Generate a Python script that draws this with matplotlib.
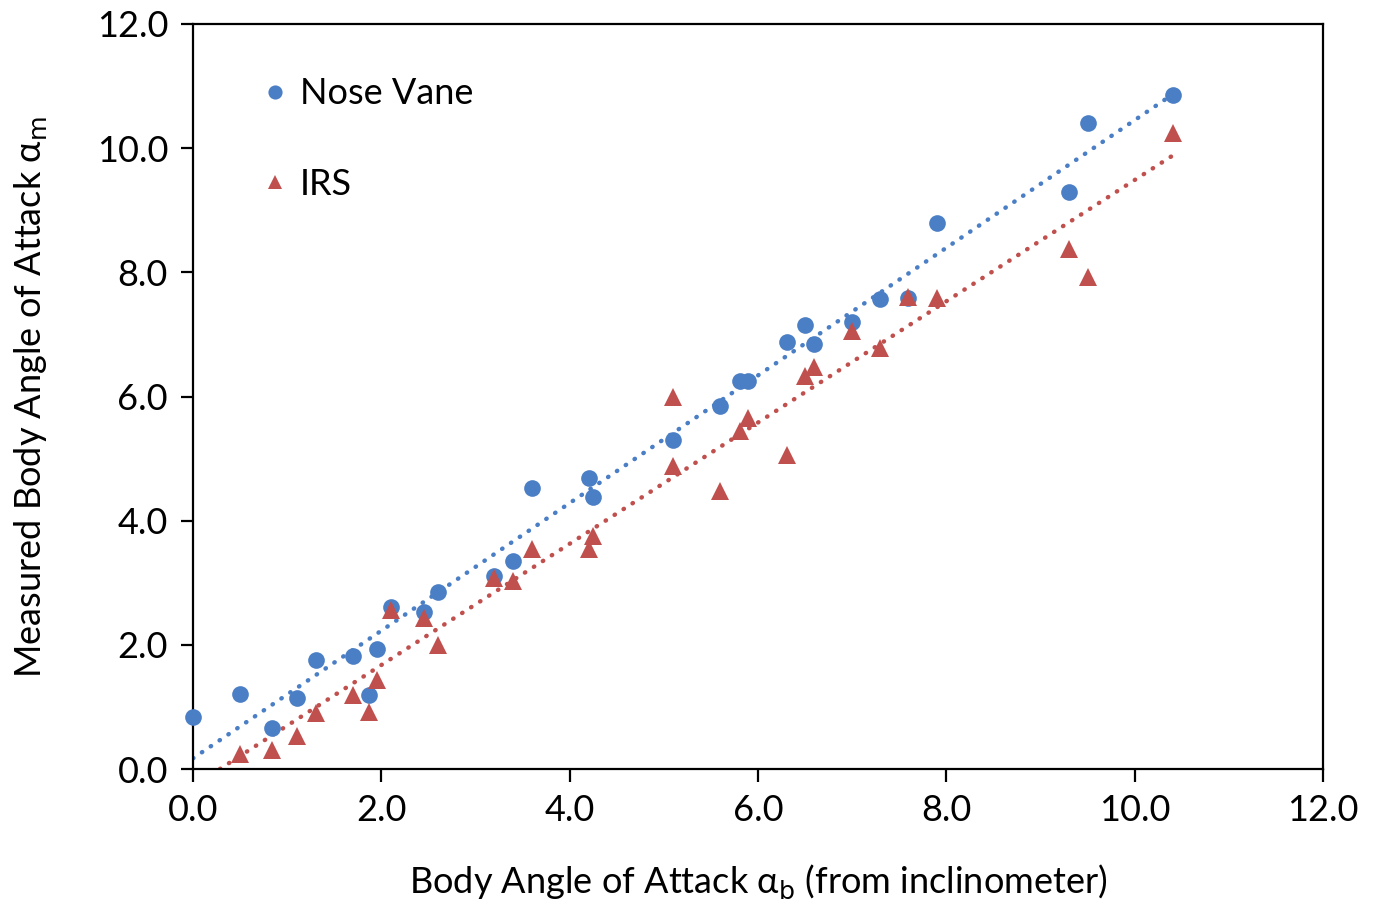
import numpy as np
import matplotlib.pyplot as plt

# Body angle from the inclinometer and the two measured angles
nose_x = [0.0, 0.50, 0.84, 1.10, 1.31, 1.70, 1.87, 1.95, 2.10, 2.45, 2.60, 3.20, 3.40, 3.60, 4.21,
          4.25, 5.10, 5.60, 5.81, 5.89, 6.31, 6.50, 6.59, 7.00, 7.30, 7.59, 7.90, 9.30, 9.50, 10.41]
nose_y = [0.84, 1.21, 0.66, 1.14, 1.76, 1.82, 1.19, 1.93, 2.61, 2.53, 2.85, 3.11, 3.35, 4.53, 4.69,
          4.38, 5.30, 5.85, 6.25, 6.25, 6.88, 7.15, 6.85, 7.20, 7.57, 7.59, 8.80, 9.29, 10.41, 10.86]

irs_x = [0.50, 0.84, 1.10, 1.31, 1.70, 1.87, 1.95, 2.10, 2.45, 2.60, 3.20, 3.40, 3.60, 4.21, 4.25,
         5.10, 5.10, 5.60, 5.81, 5.89, 6.31, 6.50, 6.59, 7.00, 7.30, 7.59, 7.90, 9.30, 9.50, 10.41]
irs_y = [0.24, 0.31, 0.53, 0.90, 1.19, 0.92, 1.43, 2.56, 2.43, 2.00, 3.08, 3.03, 3.54, 3.54, 3.75,
         5.99, 4.88, 4.48, 5.44, 5.65, 5.06, 6.33, 6.48, 7.06, 6.78, 7.60, 7.59, 8.38, 7.93, 10.24]

ticks = [0, 2, 4, 6, 8, 10, 12]

blue = '#4A7EC5'
red = '#C0504D'

plt.rcParams['font.family'] = ['Lato', 'DejaVu Sans']

fig = plt.figure(figsize=(13.79, 9.09), dpi=100)
ax = fig.add_axes([0.14, 0.154, 0.8194, 0.8196])

ax.plot(nose_x, nose_y, 'o', color=blue, markersize=12, markeredgewidth=0, label='Nose Vane',
        zorder=3, clip_on=False)
ax.plot(irs_x, irs_y, '^', color=red, markersize=12.5, markeredgewidth=0, label='IRS', zorder=3)

# linear trendlines, as in the spreadsheet
xs = np.array([min(nose_x), max(nose_x)])
for x, y, c in [(nose_x, nose_y, blue), (irs_x, irs_y, red)]:
    k, b = np.polyfit(x, y, 1)
    ax.plot(xs, k * xs + b, color=c, linewidth=3.2, linestyle=(0, (0.1, 2.3)),
            dash_capstyle='round', zorder=2)

ax.set_xlim(0, 12)
ax.set_ylim(0, 12)
ax.set_xticks(ticks)
ax.set_yticks(ticks)
ax.set_xticklabels(['%.1f' % t for t in ticks])
ax.set_yticklabels(['%.1f' % t for t in ticks])
ax.tick_params(direction='out', length=9, width=1.6, labelsize=26, pad=9)
for s in ax.spines.values():
    s.set_linewidth(1.6)

ax.set_xlabel('Body Angle of Attack α$_\\mathrm{b}$ (from inclinometer)', fontsize=26, labelpad=26)
ax.set_ylabel('Measured Body Angle of Attack α$_\\mathrm{m}$', fontsize=26, labelpad=34)

leg = ax.legend(loc='upper left', bbox_to_anchor=(0.034, 0.972), frameon=False, fontsize=26,
                markerscale=0.85, handlelength=0.6, handletextpad=0.4, labelspacing=1.6)

fig.savefig('out.png', dpi=100)
